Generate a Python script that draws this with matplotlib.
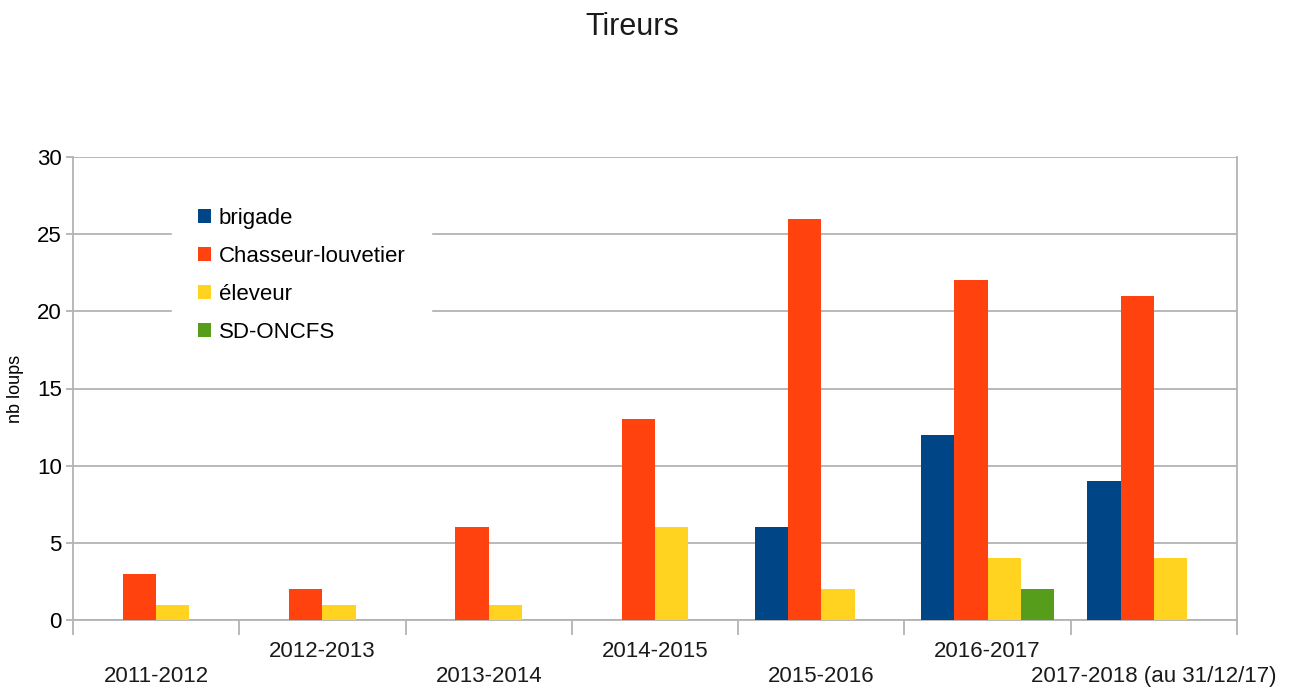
import matplotlib
matplotlib.use("Agg")
import matplotlib.pyplot as plt
import numpy as np
from matplotlib.patches import Patch

plt.rcParams['font.family'] = ['Liberation Sans', 'DejaVu Sans']

categories = ["2011-2012", "2012-2013", "2013-2014", "2014-2015",
              "2015-2016", "2016-2017", "2017-2018 (au 31/12/17)"]
series_names = ["brigade", "Chasseur-louvetier", "éleveur", "SD-ONCFS"]
brigade = [0, 0, 0, 0, 6, 12, 9]
chasseur_louvetier = [3, 2, 6, 13, 26, 22, 21]
eleveur = [1, 1, 1, 6, 2, 4, 4]
sd_oncfs = [0, 0, 0, 0, 0, 2, 0]
y_ticks = [0, 5, 10, 15, 20, 25, 30]

colors = ["#004586", "#ff420e", "#ffd320", "#579d1c"]
values = [brigade, chasseur_louvetier, eleveur, sd_oncfs]

fig = plt.figure(figsize=(12.94, 6.91), dpi=100)
ax = fig.add_axes([73 / 1294, 1 - 620 / 691, (1237 - 73) / 1294, (620 - 157) / 691])

x = np.arange(len(categories))
w = 0.2
for i, (vals, col) in enumerate(zip(values, colors)):
    ax.bar(x + (i - 1.5) * w, vals, width=w, color=col, zorder=3)

ax.set_xlim(-0.5, len(categories) - 0.5)
ax.set_ylim(0, 30)
ax.set_yticks(y_ticks)
ax.yaxis.grid(True, color="#b3b3b3", linewidth=1.3, zorder=0)
ax.tick_params(axis='y', labelsize=16, length=5, color="#b3b3b3", width=1.3, pad=3)

# category boundaries as x ticks, labels staggered on two rows
ax.set_xticks(np.arange(-0.5, len(categories), 1.0))
ax.set_xticklabels([])
ax.tick_params(axis='x', length=11, color="#b3b3b3", width=1.3)
for i, cat in enumerate(categories):
    yoff = -0.122 if i % 2 == 0 else -0.068
    ax.text(i, yoff, cat, transform=ax.get_xaxis_transform(), ha='center', va='center',
            fontsize=16, color="#1a1a1a")

for side in ['left', 'bottom', 'right']:
    ax.spines[side].set_color("#b3b3b3")
    ax.spines[side].set_linewidth(1.3)
ax.spines['top'].set_visible(False)

ax.set_ylabel("nb loups", fontsize=13)
ax.yaxis.set_label_coords(-0.042, 0.5)

fig.text(632 / 1294, 1 - 27 / 691, "Tireurs", ha='center', va='center', fontsize=22, color="#1a1a1a")

handles = [Patch(facecolor=c, edgecolor='none') for c in colors]
leg = ax.legend(handles, series_names, loc='upper left',
                bbox_to_anchor=(172 / 1294, 1 - 182 / 691), bbox_transform=fig.transFigure,
                frameon=True, facecolor='white', edgecolor='white', framealpha=1, fancybox=False,
                fontsize=16, handlelength=0.6, handleheight=0.6, handletextpad=0.35,
                labelspacing=0.77, borderpad=1.15, borderaxespad=0)
leg.set_zorder(5)

fig.savefig("out.png", dpi=100, facecolor='white')
